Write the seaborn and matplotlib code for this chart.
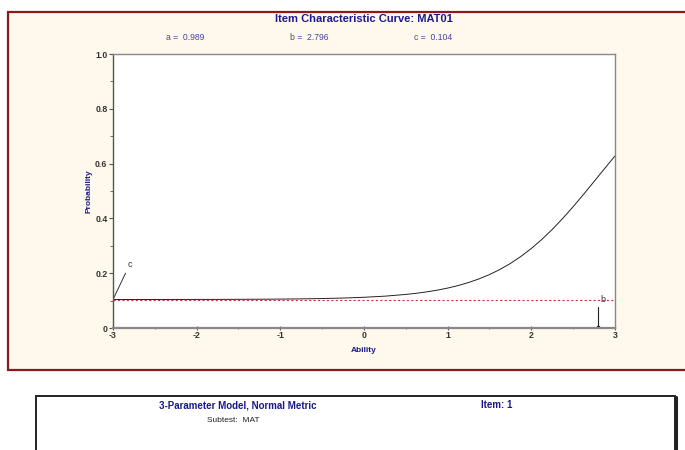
import matplotlib
matplotlib.use("Agg")
import matplotlib.pyplot as plt
import matplotlib.patches as mpatches
import seaborn as sns
import pandas as pd

# ---- data ----
ability = [-3.0, -2.75, -2.5, -2.25, -2.0, -1.75, -1.5, -1.25, -1.0, -0.75, -0.5, -0.25,
           0.0, 0.25, 0.5, 0.625, 0.75, 0.875, 1.0, 1.125, 1.25, 1.375, 1.5, 1.625, 1.75, 1.875,
           2.0, 2.125, 2.25, 2.375, 2.5, 2.625, 2.75, 2.875, 3.0]
probability = [0.1041, 0.1041, 0.1041, 0.1042, 0.1043, 0.1044, 0.1047, 0.1050, 0.1055, 0.1063,
               0.1075, 0.1093, 0.1121, 0.1162, 0.1225, 0.1267, 0.1319, 0.1381, 0.1457, 0.1549,
               0.1660, 0.1793, 0.1950, 0.2138, 0.2356, 0.2611, 0.2902, 0.3231, 0.3597, 0.3998,
               0.4428, 0.4880, 0.5347, 0.5817, 0.6281]
param_a = 0.989
param_b = 2.796
param_c = 0.104
x_ticks = [-3, -2, -1, 0, 1, 2, 3]
y_ticks = [0, 0.2, 0.4, 0.6, 0.8, 1.0]
y_tick_labels = ["0", "0.2", "0.4", "0.6", "0.8", "1.0"]

sns.set_style("white")
plt.rcParams['font.family'] = ['Liberation Sans', 'DejaVu Sans']

navy = "#1a1a8c"
fig = plt.figure(figsize=(6.85, 4.5), dpi=100)
fig.patch.set_facecolor("white")

# cream panel
panel = mpatches.Rectangle((8/685, 1-370/450), 1.2, (370-12)/450, transform=fig.transFigure,
                           facecolor="#fff8ec", edgecolor="#8b1a1a", linewidth=1.6, zorder=-2)
fig.patches.append(panel)
# lower white box
box = mpatches.Rectangle((36/685, -0.2), (675-36)/685, 0.2 + 1-396/450, transform=fig.transFigure,
                         facecolor="white", edgecolor="#222222", linewidth=1.4, zorder=-2)
fig.patches.append(box)
fig.add_artist(plt.Line2D([675/685+0.002]*2, [-0.1, 1-397/450], transform=fig.transFigure,
                          color="#222222", linewidth=2.2))

ax = fig.add_axes([113/685, 1-328/450, (615-113)/685, (328-54)/450])
ax.set_zorder(5)
ax.set_facecolor("white")

df = pd.DataFrame({"Ability": ability, "Probability": probability})
sns.lineplot(data=df, x="Ability", y="Probability", ax=ax, color="#222222", linewidth=0.7)

ax.axhline(param_c, color="#cc3333", linestyle=(0, (2, 2)), linewidth=0.8)

# c annotation
ax.plot([-3, -2.85], [param_c, 0.2], color="#333333", linewidth=0.7)
ax.text(-2.82, 0.215, "c", fontsize=6.5, color="#333333", ha="left", va="bottom")
# b annotation
ax.text(param_b + 0.06, param_c, "b", fontsize=6.5, color="#333333", ha="center", va="center")
ax.plot([param_b, param_b], [0.075, 0.004], color="#222222", linewidth=0.8)
ax.plot([param_b], [0.004], marker="s", markersize=2, color="#222222")

ax.set_xlim(-3, 3)
ax.set_ylim(0, 1)
ax.set_xticks(x_ticks)
ax.set_xticklabels([str(t) for t in x_ticks])
ax.set_yticks(y_ticks)
ax.set_yticklabels(y_tick_labels)
ax.set_xticks([-2.5, -1.5, -0.5, 0.5, 1.5, 2.5], minor=True)
ax.set_yticks([0.1, 0.3, 0.5, 0.7, 0.9], minor=True)
ax.tick_params(axis="both", which="major", labelsize=6.3, length=3, width=0.8, colors="#555555",
               labelcolor="#333333", pad=1, bottom=True, left=True)
ax.tick_params(axis="both", which="minor", length=2, width=0.6, colors="#555555", bottom=True, left=True)
ax.tick_params(axis="x", which="both", direction="inout")
for lbl in ax.get_xticklabels() + ax.get_yticklabels():
    lbl.set_fontweight("bold")
for s in ax.spines.values():
    s.set_color("#888888")
    s.set_linewidth(1.0)
ax.spines["left"].set_color("#555555")
ax.spines["bottom"].set_color("#888888")
ax.spines["bottom"].set_linewidth(1.6)

ax.set_xlabel("Ability", fontsize=6, fontweight="bold", color=navy, labelpad=5)
ax.set_ylabel("Probability", fontsize=6, fontweight="bold", color=navy, labelpad=2)

fig.text(364/685, 1-19/450, "Item Characteristic Curve: MAT01", fontsize=8, fontweight="bold",
         color=navy, ha="center", va="center")
fig.text(185/685, 1-38/450, "a =  %.3f" % param_a, fontsize=6.2, color="#4444aa", ha="center", va="center")
fig.text(309/685, 1-38/450, "b =  %.3f" % param_b, fontsize=6.2, color="#4444aa", ha="center", va="center")
fig.text(433/685, 1-38/450, "c =  %.3f" % param_c, fontsize=6.2, color="#4444aa", ha="center", va="center")

fig.text(238/685, 1-405/450, "3-Parameter Model, Normal Metric", fontsize=7, fontweight="bold",
         color=navy, ha="center", va="center")
fig.text(497/685, 1-405/450, "Item: 1", fontsize=7, fontweight="bold", color=navy, ha="center", va="center")
fig.text(207/685, 1-421/450, "Subtest:  MAT", fontsize=6, color="#222222", ha="left", va="center")

fig.savefig("out.png", dpi=100)
